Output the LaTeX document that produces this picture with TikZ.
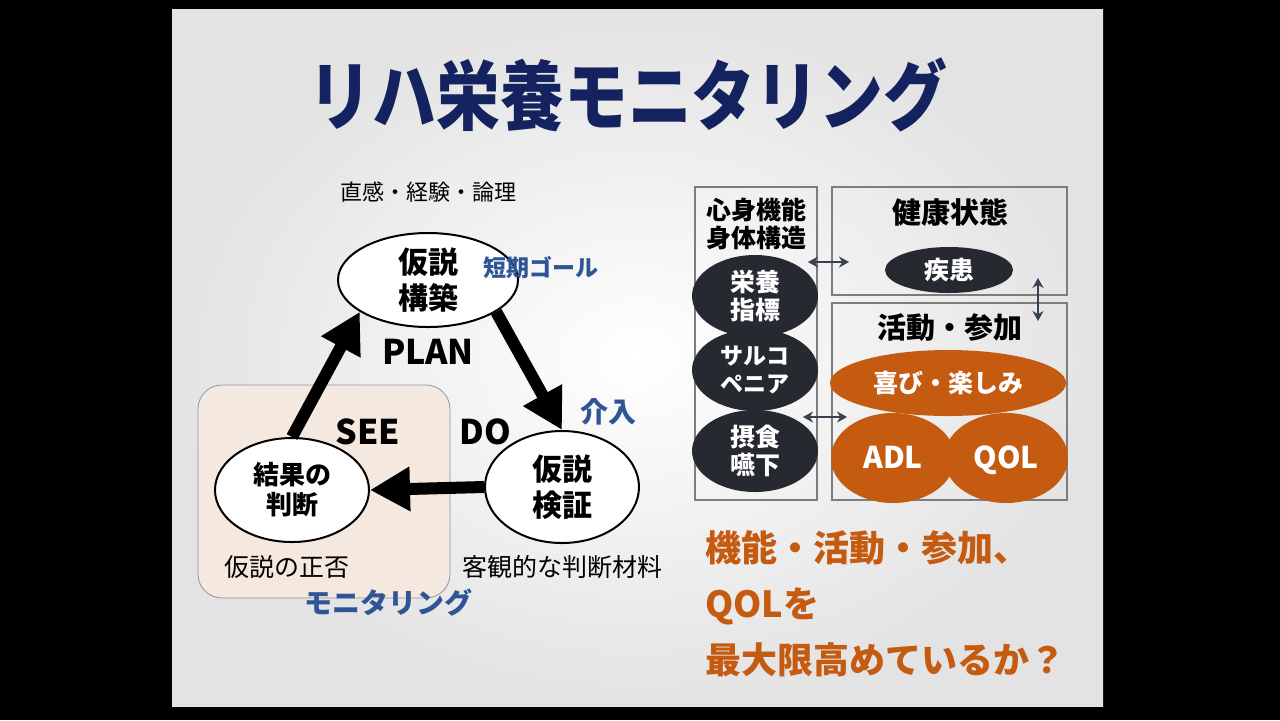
\documentclass[tikz,border=0pt]{standalone}
\usepackage{fontspec}
\setmainfont{Noto Sans CJK JP}
\usetikzlibrary{arrows.meta,shapes.geometric}
\definecolor{titleblue}{RGB}{20,35,95}
\definecolor{labelblue}{RGB}{47,85,151}
\definecolor{rorange}{RGB}{197,90,17}
\definecolor{darkball}{RGB}{38,42,48}
\definecolor{seebox}{RGB}{245,232,223}
\definecolor{seeline}{RGB}{140,150,170}
\definecolor{boxline}{RGB}{125,125,125}
\definecolor{dblarrow}{RGB}{55,65,80}
\begin{document}
\begin{tikzpicture}[x=0.5pt,y=-0.5pt,
	cyclenode/.style={draw, ellipse, fill=white, line width=1pt, inner sep=0pt, align=center, font=\bfseries\fontsize{15}{18}\selectfont},
	bigarrow/.style={line width=6pt, -{Triangle[length=20pt,width=21pt]}},
	ball/.style={ellipse, fill=darkball, text=white, inner sep=0pt, minimum width=63pt, minimum height=41pt, align=center, font=\bfseries\fontsize{12.5}{14}\selectfont},
	oball/.style={ellipse, fill=rorange, text=white, inner sep=0pt, align=center, font=\bfseries\fontsize{12.5}{14}\selectfont},
	icfbox/.style={draw=boxline, line width=0.8pt, inner sep=0pt},
	boxtitle/.style={align=center, font=\bfseries\fontsize{14.5}{16}\selectfont},
	smalltext/.style={font=\fontsize{12.5}{14}\selectfont},
	bluelabel/.style={text=labelblue, font=\bfseries\fontsize{11.5}{13}\selectfont},
	phase/.style={font=\bfseries\fontsize{17}{18}\selectfont},
	dbl/.style={draw=dblarrow, line width=1.2pt, {Stealth[length=5pt,width=5.5pt]}-{Stealth[length=5pt,width=5.5pt]}}]
	\fill[black] (0,0) rectangle (1280,720);
	\shade[inner color=white, outer color=gray!22] (172,9) rectangle (1103,706);
	\node (title) [text=titleblue, font=\bfseries\fontsize{38}{38}\selectfont] at (628,95) {\scalebox{0.84}[1]{リハ栄養モニタリング}};
	\node (seebg) [draw=seeline, fill=seebox, rounded corners=12pt, minimum width=126pt, minimum height=106.5pt] at (324,491.5) {};
	\node (idea) [smalltext, font=\fontsize{11}{13}\selectfont] at (428,192) {直感・経験・論理};
	\node (plan) [cyclenode, minimum width=90pt, minimum height=47pt] at (428,280) {仮説\\構築};
	\node (res) [cyclenode, font=\bfseries\fontsize{13}{15}\selectfont, minimum width=77pt, minimum height=52pt] at (292,490) {結果の\\判断};
	\node (chk) [cyclenode, minimum width=77pt, minimum height=56pt] at (562,487) {仮説\\検証};
	\node (goal) [bluelabel] at (541,268) {短期ゴール};
	\node (act) [bluelabel, font=\bfseries\fontsize{14}{16}\selectfont] at (608,412) {介入};
	\node (mon) [bluelabel, font=\bfseries\fontsize{14}{16}\selectfont] at (388,603) {モニタリング};
	\node (plantxt) [phase] at (428,352) {PLAN};
	\node (seetxt) [phase] at (368,432) {SEE};
	\node (dotxt) [phase] at (485,432) {DO};
	\node (ok) [smalltext] at (287,567) {仮説の正否};
	\node (data) [smalltext] at (562,567) {客観的な判断材料};
	\draw[bigarrow] (res.north) -- (plan.205);
	\draw[bigarrow] (plan.335) -- (chk.north);
	\draw[bigarrow] (chk.west) -- (res.east);
	\node (body) [icfbox, minimum width=61pt, minimum height=156.5pt] at (756,343.5) {};
	\node (health) [icfbox, minimum width=117.5pt, minimum height=54pt] at (949.5,241) {};
	\node (activity) [icfbox, minimum width=117.5pt, minimum height=98.5pt] at (949.5,401.5) {};
	\node (bodytxt) [boxtitle, font=\bfseries\fontsize{12.5}{14}\selectfont] at (756,224) {心身機能\\身体構造};
	\node (healthtxt) [boxtitle] at (950,212) {健康状態};
	\node (acttxt) [boxtitle] at (950,328) {活動・参加};
	\node (nutr) [ball] at (755,296) {栄養\\指標};
	\node (sarc) [ball, font=\bfseries\fontsize{11.5}{14}\selectfont] at (755,370) {サルコ\\ペニア};
	\node (swal) [ball] at (755,451) {摂食\\嚥下};
	\node (dis) [ball, minimum width=64pt, minimum height=23pt] at (949,270) {疾患};
	\node (joy) [oball, minimum width=118pt, minimum height=33pt] at (948,383) {喜び・楽しみ};
	\node (adl) [oball, minimum width=62pt, minimum height=45pt, text height=10.5pt, text depth=0pt, font=\bfseries\fontsize{15}{16}\selectfont] at (893,458) {ADL};
	\node (qol) [oball, minimum width=62pt, minimum height=45pt, text height=10.5pt, text depth=0pt, font=\bfseries\fontsize{15}{16}\selectfont] at (1006,458) {QOL};
	\coordinate (p1) at (808,262);
	\coordinate (q1) at (849,262);
	\coordinate (p2) at (1038,278);
	\coordinate (q2) at (1038,321);
	\coordinate (p3) at (803,417);
	\coordinate (q3) at (847,417);
	\draw[dbl] (p1) -- (q1);
	\draw[dbl] (p2) -- (q2);
	\draw[dbl] (p3) -- (q3);
	\node (ask) [anchor=west, text=rorange, font=\bfseries\fontsize{18}{28}\selectfont, align=left] at (698,604) {機能・活動・参加、\\QOLを\\最大限高めているか？};
\end{tikzpicture}
\end{document}
